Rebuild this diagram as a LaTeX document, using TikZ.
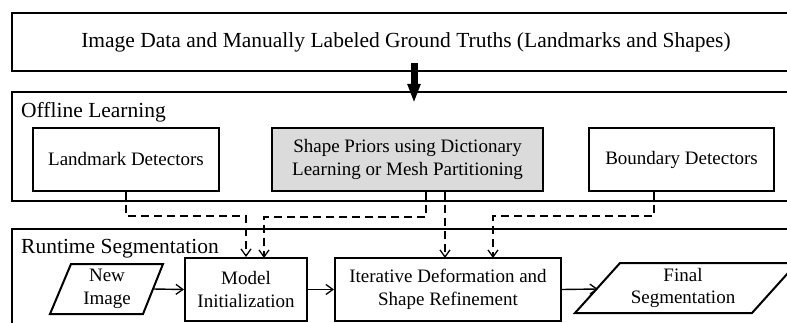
\documentclass[tikz,border=0pt]{standalone}
\usepackage{fontspec}
\setmainfont{Liberation Serif}
\usetikzlibrary{arrows.meta}
\tikzset{
  frame/.style={draw, line width=1.2pt, inner sep=0pt},
  box/.style={draw, line width=2pt, align=center, inner sep=0pt, font=\fontsize{19}{22.5}\selectfont},
  gbox/.style={box, fill=black!14},
  txt/.style={align=center, inner sep=0pt, font=\fontsize{19}{22.5}\selectfont},
  lbl/.style={inner sep=0pt, anchor=base west, font=\fontsize{21.5}{24}\selectfont},
  para/.style={line width=2pt, line join=miter},
  flow/.style={line width=1.4pt, -{Straight Barb[length=7pt,width=10pt,line width=1.3pt]}},
  dflow/.style={line width=1.4pt, dash pattern=on 8pt off 5pt, -{Straight Barb[length=7pt,width=10pt,line width=1.3pt]}},
  big/.style={line width=7pt, -{Triangle[length=19pt,width=12pt]}}
}
\begin{document}
\begin{tikzpicture}[x=1pt,y=-1pt]
\useasboundingbox (0,0) rectangle (787,323);
\clip (0,0) rectangle (787,323);
\fill[white] (0,0) rectangle (787,323);

% outer frames
\node[frame, minimum width=788pt, minimum height=58pt, font=\fontsize{21.5}{24}\selectfont] (top) at (406,42) {Image Data and Manually Labeled Ground Truths (Landmarks and Shapes)};
\node[frame, minimum width=788pt, minimum height=109pt] (off) at (406,146.5) {};
\node[frame, minimum width=788pt, minimum height=120pt] (run) at (406,289) {};
\node[lbl] (offl) at (21,118) {Offline Learning};
\node[lbl] (runl) at (21,253) {Runtime Segmentation};

% offline boxes
\node[box, minimum width=186pt, minimum height=63pt] (ld) at (126,159.5) {Landmark Detectors};
\node[gbox, minimum width=271pt, minimum height=63pt] (sp) at (407.5,159.5) {Shape Priors using Dictionary\\Learning or Mesh Partitioning};
\node[box, minimum width=185pt, minimum height=63pt] (bd) at (681.5,159.5) {Boundary Detectors};

% runtime boxes
\node[box, minimum width=122pt, minimum height=63pt] (mi) at (246,289.5) {Model\\Initialization};
\node[box, minimum width=226pt, minimum height=63pt] (it) at (448,289.5) {Iterative Deformation and\\Shape Refinement};
\node[txt] (ni) at (107,289) {New\\Image};
\node[txt] (fs) at (683,288) {Final\\Segmentation};
\draw[para] (50,314) -- (71,264) -- (163,264) -- (143,314) -- cycle;
\draw[para] (575,313) -- (620,263) -- (797,263) -- (752,313) -- cycle;

% named connector ends
\coordinate (a1) at (414,63);
\coordinate (a2) at (414,103);
\coordinate (niR) at (153,289);
\coordinate (fsL) at (598,289);

% thick arrow
\draw[big] (a1) -- (a2);

% dashed arrows
\draw[dflow] (ld.south) -- (126,216) -- (246,216) -- (mi.north);
\draw[dflow] ([xshift=18.5pt]sp.south) -- (426,217) -- (264,217) -- (264,258);
\draw[dflow] ([xshift=37.5pt]sp.south) -- (445,258);
\draw[dflow] ([xshift=-27.5pt]bd.south) -- (654,216) -- (493,216) -- (493,258);

% solid arrows
\draw[flow] (niR) -- (mi.west);
\draw[flow] (mi.east) -- (it.west);
\draw[flow] (it.east) -- (fsL);
\end{tikzpicture}
\end{document}
